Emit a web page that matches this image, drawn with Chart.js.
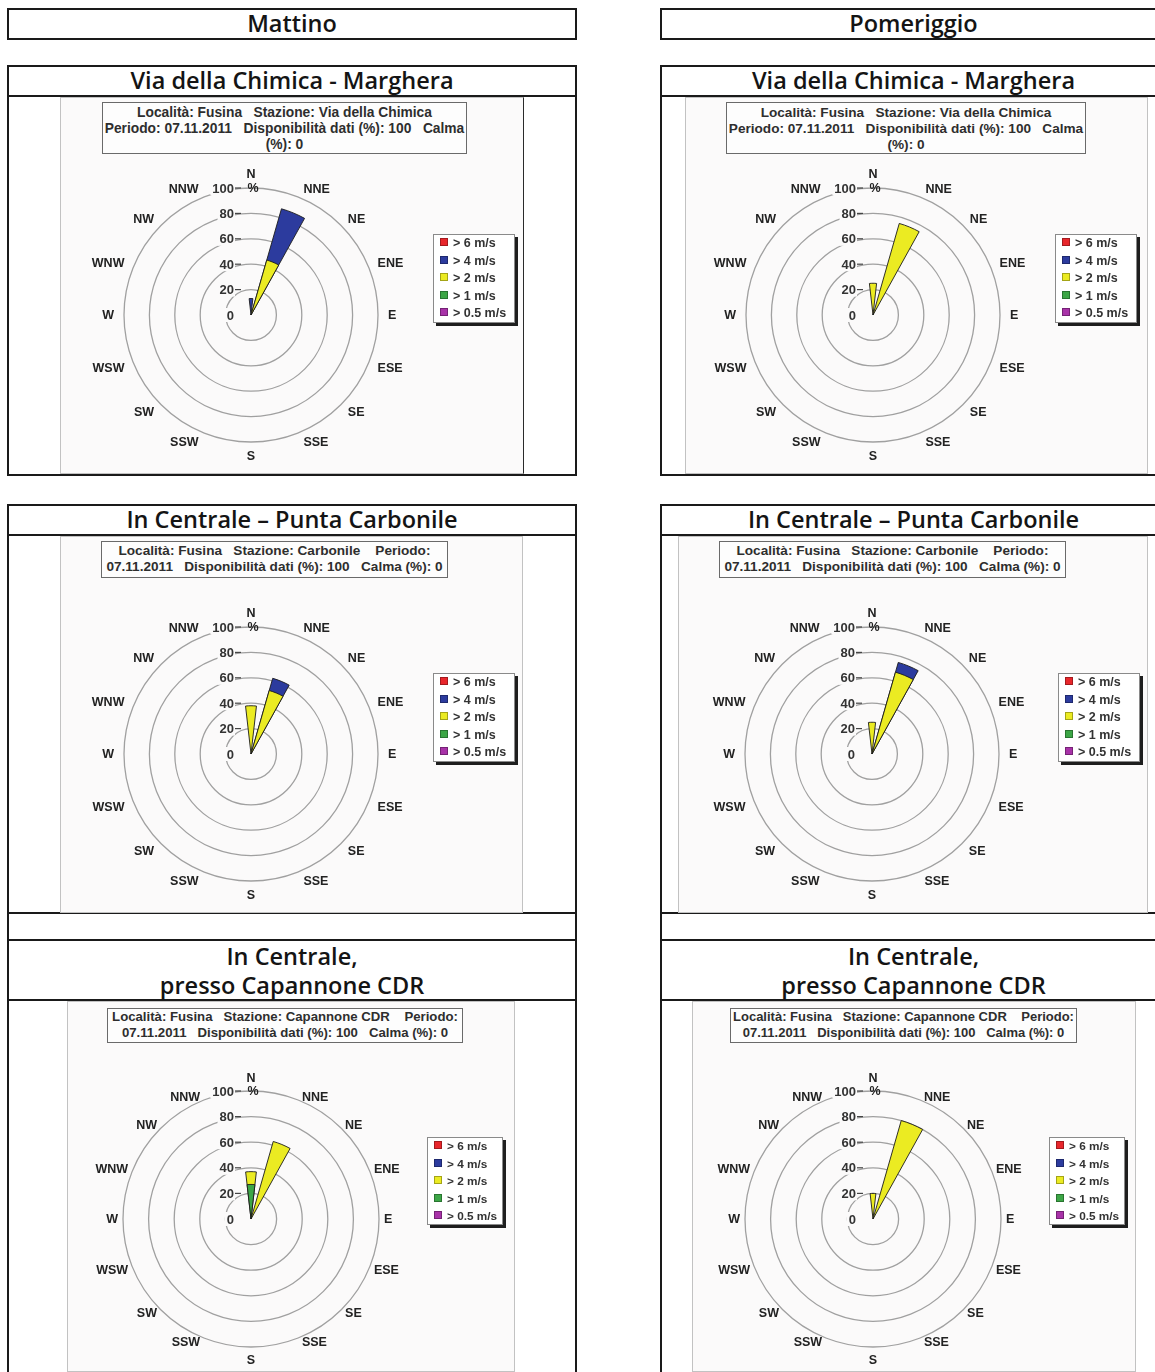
<!DOCTYPE html>
<html><head><meta charset="utf-8">
<script src="https://cdn.jsdelivr.net/npm/chart.js@4.4.0/dist/chart.umd.min.js"></script>
<style>
html,body{margin:0;padding:0;background:#fff;}
body{width:1155px;height:1372px;position:relative;overflow:hidden;font-family:"Open Sans","Noto Sans",sans-serif;}
.hl{position:absolute;height:2px;background:#1a1a1a;}
.vl{position:absolute;width:2px;background:#1a1a1a;}
.ttl{position:absolute;text-align:center;font-weight:600;font-size:23.5px;color:#141414;line-height:29px;white-space:nowrap;}
.img{position:absolute;box-sizing:border-box;border:1px solid #c2c2c2;background:#fbfafa;}
canvas{position:absolute;}
.info{position:absolute;box-sizing:border-box;border:1px solid #6a6a6a;background:#fdfdfd;font-family:"Liberation Sans",Arial,sans-serif;font-weight:bold;color:#2e2e2e;text-align:center;line-height:16px;white-space:pre;}
.leg{position:absolute;box-sizing:border-box;border:1px solid #8a8a8a;background:#fff;box-shadow:3px 3px 0 #1e1e1e;font-family:"Liberation Sans",Arial,sans-serif;font-weight:bold;color:#333;}
.leg div{position:absolute;left:6px;white-space:nowrap;line-height:14px;}
.leg span{display:inline-block;width:6px;height:6px;margin-right:5px;vertical-align:1px;border:1px solid rgba(0,0,0,.3);}
</style></head><body>
<script>
// ---------- DATA ----------
const directions = ['N','NNE','NE','ENE','E','ESE','SE','SSE','S','SSW','SW','WSW','W','WNW','NW','NNW'];
const speedClasses = ['> 6 m/s','> 4 m/s','> 2 m/s','> 1 m/s','> 0.5 m/s'];
const radialTicks = [0,20,40,60,80,100];
const sessionTitles = ['Mattino','Pomeriggio'];
const stationTitles = ['Via della Chimica - Marghera','In Centrale \u2013 Punta Carbonile','In Centrale,\npresso Capannone CDR'];

// Frequency (%) per direction N..NNW and per wind-speed class
const chimicaMattino_gt6   = [0,0,0,0,0,0,0,0,0,0,0,0,0,0,0,0];
const chimicaMattino_gt4   = [13,42,0,0,0,0,0,0,0,0,0,0,0,0,0,0];
const chimicaMattino_gt2   = [0,45,0,0,0,0,0,0,0,0,0,0,0,0,0,0];
const chimicaMattino_gt1   = [0,0,0,0,0,0,0,0,0,0,0,0,0,0,0,0];
const chimicaMattino_gt05  = [0,0,0,0,0,0,0,0,0,0,0,0,0,0,0,0];

const chimicaPomeriggio_gt6  = [0,0,0,0,0,0,0,0,0,0,0,0,0,0,0,0];
const chimicaPomeriggio_gt4  = [0,0,0,0,0,0,0,0,0,0,0,0,0,0,0,0];
const chimicaPomeriggio_gt2  = [25,75,0,0,0,0,0,0,0,0,0,0,0,0,0,0];
const chimicaPomeriggio_gt1  = [0,0,0,0,0,0,0,0,0,0,0,0,0,0,0,0];
const chimicaPomeriggio_gt05 = [0,0,0,0,0,0,0,0,0,0,0,0,0,0,0,0];

const carboMattino_gt6   = [0,0,0,0,0,0,0,0,0,0,0,0,0,0,0,0];
const carboMattino_gt4   = [0,10,0,0,0,0,0,0,0,0,0,0,0,0,0,0];
const carboMattino_gt2   = [38,52,0,0,0,0,0,0,0,0,0,0,0,0,0,0];
const carboMattino_gt1   = [0,0,0,0,0,0,0,0,0,0,0,0,0,0,0,0];
const carboMattino_gt05  = [0,0,0,0,0,0,0,0,0,0,0,0,0,0,0,0];

const carboPomeriggio_gt6  = [0,0,0,0,0,0,0,0,0,0,0,0,0,0,0,0];
const carboPomeriggio_gt4  = [0,8,0,0,0,0,0,0,0,0,0,0,0,0,0,0];
const carboPomeriggio_gt2  = [25,67,0,0,0,0,0,0,0,0,0,0,0,0,0,0];
const carboPomeriggio_gt1  = [0,0,0,0,0,0,0,0,0,0,0,0,0,0,0,0];
const carboPomeriggio_gt05 = [0,0,0,0,0,0,0,0,0,0,0,0,0,0,0,0];

const cdrMattino_gt6   = [0,0,0,0,0,0,0,0,0,0,0,0,0,0,0,0];
const cdrMattino_gt4   = [0,0,0,0,0,0,0,0,0,0,0,0,0,0,0,0];
const cdrMattino_gt2   = [10,63,0,0,0,0,0,0,0,0,0,0,0,0,0,0];
const cdrMattino_gt1   = [27,0,0,0,0,0,0,0,0,0,0,0,0,0,0,0];
const cdrMattino_gt05  = [0,0,0,0,0,0,0,0,0,0,0,0,0,0,0,0];

const cdrPomeriggio_gt6  = [0,0,0,0,0,0,0,0,0,0,0,0,0,0,0,0];
const cdrPomeriggio_gt4  = [0,0,0,0,0,0,0,0,0,0,0,0,0,0,0,0];
const cdrPomeriggio_gt2  = [20,80,0,0,0,0,0,0,0,0,0,0,0,0,0,0];
const cdrPomeriggio_gt1  = [0,0,0,0,0,0,0,0,0,0,0,0,0,0,0,0];
const cdrPomeriggio_gt05 = [0,0,0,0,0,0,0,0,0,0,0,0,0,0,0,0];

const infoChimica = ['Localit\u00e0: Fusina   Stazione: Via della Chimica','Periodo: 07.11.2011   Disponibilit\u00e0 dati (%): 100   Calma','(%): 0'];
const infoCarbonile = ['Localit\u00e0: Fusina   Stazione: Carbonile    Periodo:','07.11.2011   Disponibilit\u00e0 dati (%): 100   Calma (%): 0'];
const infoCdr = ['Localit\u00e0: Fusina   Stazione: Capannone CDR    Periodo:','07.11.2011   Disponibilit\u00e0 dati (%): 100   Calma (%): 0'];

// ---------- STYLE / LAYOUT ----------
const classColors = ['#e8262b','#2c3b9e','#ebeb22','#3ca646','#a832a8']; // same order as speedClasses
const WEDGE_DEG = 13; // angular width of each direction wedge
const charts = [
 {series:[chimicaMattino_gt6,chimicaMattino_gt4,chimicaMattino_gt2,chimicaMattino_gt1,chimicaMattino_gt05], info:infoChimica,
  img:[60,97,464,377], c:[251,315], r:127, pad:10, padNS:14, box:[102,102,365,52,2], leg:[433,234,82,89], fs:13.8, lfs:12.5},
 {series:[chimicaPomeriggio_gt6,chimicaPomeriggio_gt4,chimicaPomeriggio_gt2,chimicaPomeriggio_gt1,chimicaPomeriggio_gt05], info:infoChimica,
  img:[685,97,463,377], c:[873,315], r:127, pad:10, padNS:14, box:[726,102,360,52,2], leg:[1055,234,82,89], fs:13.6, lfs:12.5},
 {series:[carboMattino_gt6,carboMattino_gt4,carboMattino_gt2,carboMattino_gt1,carboMattino_gt05], info:infoCarbonile,
  img:[60,536,463,377], c:[251,754], r:127, pad:10, padNS:14, box:[101,541,347,37,1], leg:[433,673,82,89], fs:13.6, lfs:12.5},
 {series:[carboPomeriggio_gt6,carboPomeriggio_gt4,carboPomeriggio_gt2,carboPomeriggio_gt1,carboPomeriggio_gt05], info:infoCarbonile,
  img:[678,536,470,377], c:[872,754], r:127, pad:10, padNS:14, box:[719,541,347,37,1], leg:[1058,673,82,89], fs:13.6, lfs:12.5},
 {series:[cdrMattino_gt6,cdrMattino_gt4,cdrMattino_gt2,cdrMattino_gt1,cdrMattino_gt05], info:infoCdr,
  img:[67,1001,448,371], c:[251,1219], r:128, pad:5, padNS:13, box:[107,1008,356,35,0], leg:[427,1137,76,88], fs:13.2, lfs:11.8},
 {series:[cdrPomeriggio_gt6,cdrPomeriggio_gt4,cdrPomeriggio_gt2,cdrPomeriggio_gt1,cdrPomeriggio_gt05], info:infoCdr,
  img:[692,1001,444,371], c:[873,1219], r:128, pad:5, padNS:13, box:[730,1008,347,35,0], leg:[1049,1137,76,88], fs:13.0, lfs:11.8}
];

function el(cls, css, html) {
  const d = document.createElement('div');
  d.className = cls; Object.assign(d.style, css);
  if (html !== undefined) d.textContent = html;
  document.body.appendChild(d); return d;
}
function hline(x0, x1, y) { el('hl', {left:(x0-1)+'px', top:(y-1)+'px', width:(x1-x0+2)+'px'}); }
function vline(x, y0, y1) { el('vl', {left:(x-1)+'px', top:(y0-1)+'px', height:(y1-y0+2)+'px'}); }

// frame structure for the two columns
[[8,576],[661,1166]].forEach(([x0,x1], col) => {
  [9,39,66,96,475,505,535,913,940,1000].forEach(y => hline(x0,x1,y));
  [[9,39],[66,475],[505,1380]].forEach(([a,b]) => { vline(x0,a,b); vline(x1,a,b); });
  const w = x1 - x0;
  el('ttl', {left:x0+'px', width:w+'px', top:'9px'}, sessionTitles[col]);
  el('ttl', {left:x0+'px', width:w+'px', top:'66px'}, stationTitles[0]);
  el('ttl', {left:x0+'px', width:w+'px', top:'505px'}, stationTitles[1]);
  el('ttl', {left:x0+'px', width:w+'px', top:'942px', whiteSpace:'pre'}, stationTitles[2]);
});

// decoration plugin: tick labels, % sign and compass labels placed through the radial scale
const roseDecor = {
  id: 'roseDecor',
  afterDraw(chart, args, opts) {
    const s = chart.scales.r, ctx = chart.ctx;
    const cx = s.xCenter, cy = s.yCenter, r0 = s.drawingArea;
    ctx.save();
    ctx.textBaseline = 'middle';
    ctx.font = 'bold 13px "Liberation Sans", Arial, sans-serif';
    s.ticks.forEach(t => {
      const y = cy - s.getDistanceFromCenterForValue(t.value);
      const w = ctx.measureText(t.label).width;
      ctx.fillStyle = '#fbfafa';
      ctx.fillRect(cx - 17 - w - 2, y - 7, w + 3, 14);
      ctx.fillStyle = '#333';
      ctx.textAlign = 'right';
      ctx.fillText(t.label, cx - 17, y + 1);
      if (t.value > 0) {
        ctx.strokeStyle = '#444'; ctx.lineWidth = 1.2;
        ctx.beginPath(); ctx.moveTo(cx - 16, y); ctx.lineTo(cx - 10, y); ctx.stroke();
      }
    });
    ctx.font = 'bold 12.5px "Liberation Sans", Arial, sans-serif';
    ctx.fillStyle = '#222';
    ctx.textAlign = 'center';
    ctx.fillText('%', cx + 2, cy - r0 + 1);
    const labels = chart.data.labels;
    const half = WEDGE_DEG / 2 * Math.PI / 180;
    for (let i = 0; i < labels.length; i += 2) {
      const k = i / 2;
      const ns = (k % 8 === 0);
      const p = s.getPointPosition(i, r0 + (ns ? opts.padNS : opts.pad), half);
      ctx.textAlign = ns ? 'center' : (k < 8 ? 'left' : 'right');
      ctx.fillText(labels[i], p.x, p.y + 1);
    }
    ctx.restore();
  }
};

function toSlots(arr16) { const out = []; arr16.forEach(v => out.push(v, 0)); return out; }
const slotLabels = [];
directions.forEach(d => slotLabels.push(d, ''));

charts.forEach((cfg, idx) => {
  const [ix, iy, iw, ih] = cfg.img;
  el('img', {left:ix+'px', top:iy+'px', width:iw+'px', height:ih+'px', borderRightColor: idx===0 ? '#2a2a2a' : '#c2c2c2'});
  const cv = document.createElement('canvas');
  cv.width = iw; cv.height = ih;
  Object.assign(cv.style, {left:ix+'px', top:iy+'px', width:iw+'px', height:ih+'px'});
  document.body.appendChild(cv);

  // info box
  const [bx, by, bw, bh, bp] = cfg.box;
  el('info', {left:bx+'px', top:by+'px', width:bw+'px', height:bh+'px', paddingTop:bp+'px', fontSize:cfg.fs+'px'}, cfg.info.join('\n'));

  // legend
  const [lx, ly, lw, lh] = cfg.leg;
  const lg = el('leg', {left:lx+'px', top:ly+'px', width:lw+'px', height:lh+'px', fontSize:cfg.lfs+'px'});
  speedClasses.forEach((name, i) => {
    const row = document.createElement('div');
    row.style.top = (1 + i * 17.6) + 'px';
    const sw = document.createElement('span'); sw.style.background = classColors[i];
    row.appendChild(sw); row.appendChild(document.createTextNode(name));
    lg.appendChild(row);
  });

  // datasets: innermost class first (drawn on top), cumulative radii
  const innerOrder = [4,3,2,1,0];
  let cum = directions.map(() => 0);
  const datasets = innerOrder.map(ci => {
    const arr = cfg.series[ci];
    cum = cum.map((v, k) => v + arr[k]);
    const vals = cum.map((v, k) => arr[k] > 0 ? v : 0);
    return {
      label: speedClasses[ci],
      data: toSlots(vals),
      backgroundColor: classColors[ci],
      borderColor: '#1b1b1b',
      borderWidth: (c) => (c.raw > 0 ? 0.9 : 0),
      angle: (c) => (c.dataIndex % 2 === 0 ? WEDGE_DEG : 22.5 - WEDGE_DEG)
    };
  });

  const cxl = cfg.c[0] - ix, cyl = cfg.c[1] - iy, r = cfg.r;
  new Chart(cv, {
    type: 'polarArea',
    data: { labels: slotLabels, datasets },
    options: {
      responsive: false, animation: false, devicePixelRatio: 1,
      layout: { padding: { left: cxl - r, top: cyl - r, right: iw - cxl - r, bottom: ih - cyl - r } },
      plugins: { legend: { display: false }, tooltip: { enabled: false }, roseDecor: { pad: cfg.pad, padNS: cfg.padNS } },
      scales: { r: {
        min: 0, max: 100, startAngle: -WEDGE_DEG / 2,
        afterBuildTicks: (sc) => { sc.ticks = radialTicks.map(v => ({ value: v })); },
        ticks: { display: false },
        grid: { circular: true, color: '#a0a0a0', lineWidth: 1.3 },
        angleLines: { display: false },
        pointLabels: { display: false }
      } }
    },
    plugins: [roseDecor]
  });
});
</script>
</body></html>
